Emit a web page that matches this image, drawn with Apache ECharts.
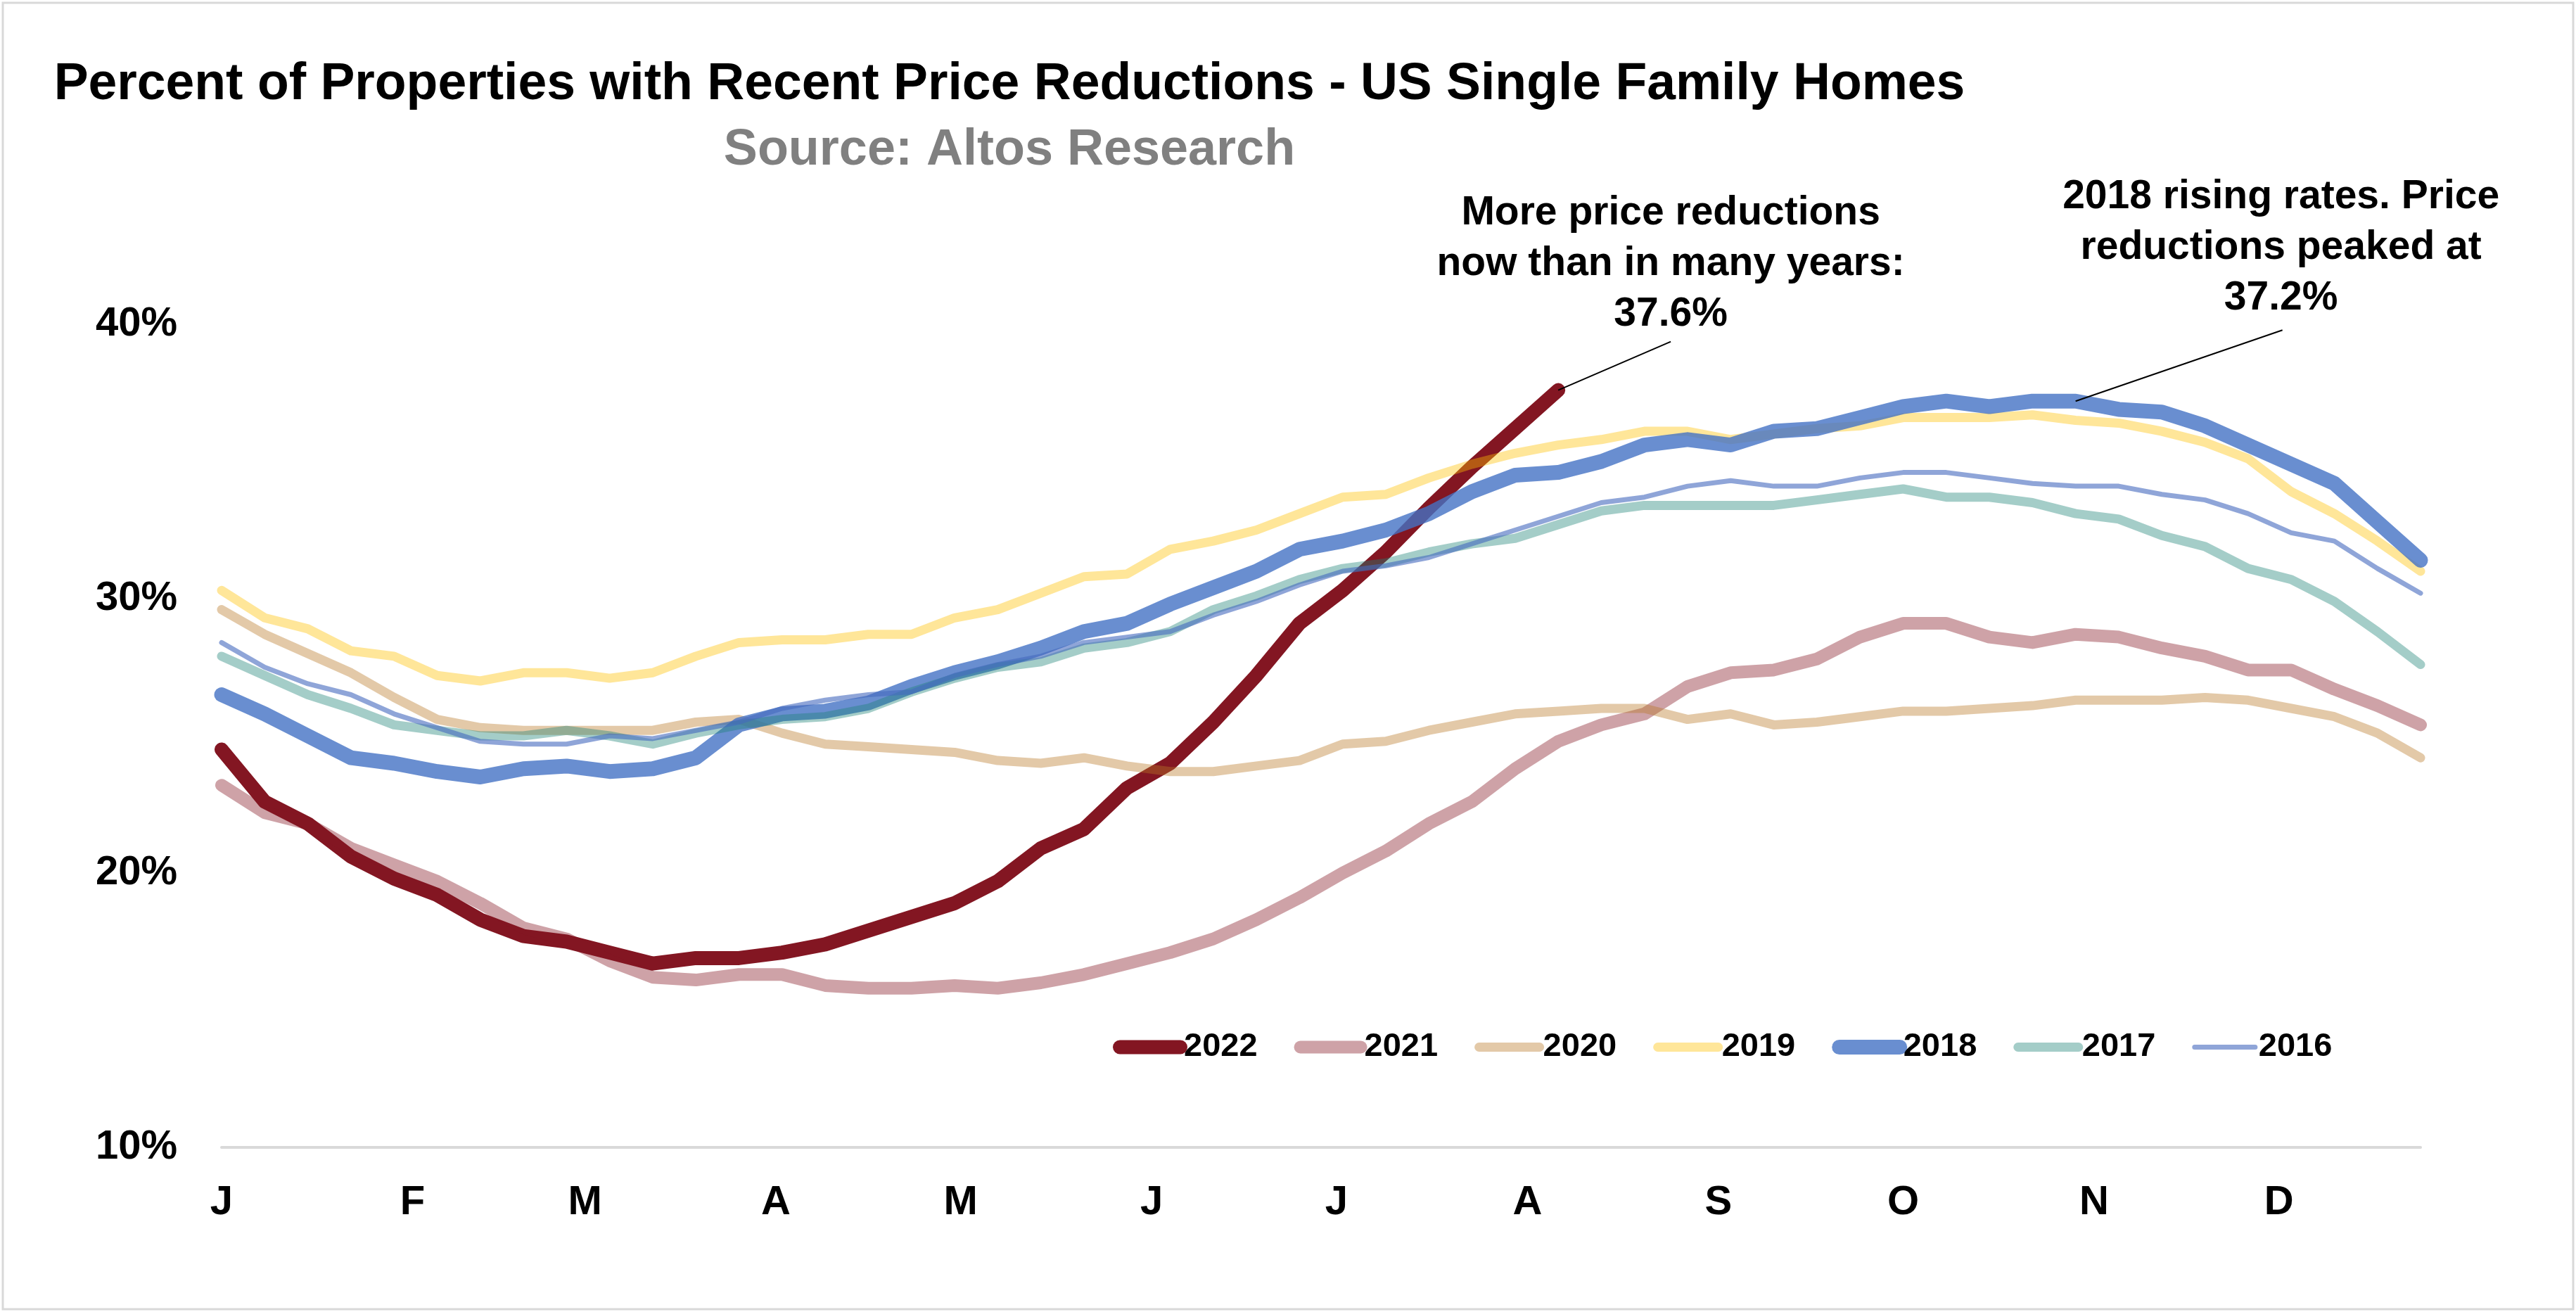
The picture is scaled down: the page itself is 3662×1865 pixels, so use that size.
<!DOCTYPE html>
<html>
<head>
<meta charset="utf-8">
<script src="https://cdn.jsdelivr.net/npm/echarts@6/dist/echarts.min.js"></script>
<style>
html,body{margin:0;padding:0;background:#fff;}
#chart{width:3662px;height:1865px;}
</style>
</head>
<body>
<div id="chart"></div>
<script>
// ---- data ----
var weekDay = [0,7,14,21,28,35,42,49,56,63,70,77,84,91,98,105,112,119,126,133,140,147,154,161,168,175,182,189,196,203,210,217,224,231,238,245,252,259,266,273,280,287,294,301,308,315,322,329,336,343,350,357];
var monthStartDay = [0,31,59,90,120,151,181,212,243,273,304,334];
var monthLabels = ['J','F','M','A','M','J','J','A','S','O','N','D'];
var yTicks = [10,20,30,40];
var seriesNames = ['2022','2021','2020','2019','2018','2017','2016'];

var s2022 = [24.5,22.6,21.8,20.6,19.8,19.2,18.3,17.7,17.5,17.1,16.7,16.9,16.9,17.1,17.4,17.9,18.4,18.9,19.7,20.9,21.6,23.1,24.0,25.5,27.2,29.1,30.3,31.7,33.3,34.8,36.2,37.6];
var s2021 = [23.2,22.2,21.8,20.9,20.3,19.7,18.9,18.0,17.6,16.8,16.2,16.1,16.3,16.3,15.9,15.8,15.8,15.9,15.8,16.0,16.3,16.7,17.1,17.6,18.3,19.1,20.0,20.8,21.8,22.6,23.8,24.8,25.4,25.8,26.8,27.3,27.4,27.8,28.6,29.1,29.1,28.6,28.4,28.7,28.6,28.2,27.9,27.4,27.4,26.7,26.1,25.4];
var s2020 = [29.6,28.7,28.0,27.3,26.4,25.6,25.3,25.2,25.2,25.2,25.2,25.5,25.6,25.1,24.7,24.6,24.5,24.4,24.1,24.0,24.2,23.9,23.7,23.7,23.9,24.1,24.7,24.8,25.2,25.5,25.8,25.9,26.0,26.0,25.6,25.8,25.4,25.5,25.7,25.9,25.9,26.0,26.1,26.3,26.3,26.3,26.4,26.3,26.0,25.7,25.1,24.2];
var s2019 = [30.3,29.3,28.9,28.1,27.9,27.2,27.0,27.3,27.3,27.1,27.3,27.9,28.4,28.5,28.5,28.7,28.7,29.3,29.6,30.2,30.8,30.9,31.8,32.1,32.5,33.1,33.7,33.8,34.4,34.9,35.3,35.6,35.8,36.1,36.1,35.8,36.0,36.2,36.3,36.6,36.6,36.6,36.7,36.5,36.4,36.1,35.7,35.1,33.9,33.1,32.1,31.0];
var s2018 = [26.5,25.8,25.0,24.2,24.0,23.7,23.5,23.8,23.9,23.7,23.8,24.2,25.4,25.8,25.9,26.2,26.8,27.3,27.7,28.2,28.8,29.1,29.8,30.4,31.0,31.8,32.1,32.5,33.1,33.9,34.5,34.6,35.0,35.6,35.8,35.6,36.1,36.2,36.6,37.0,37.2,37.0,37.2,37.2,36.9,36.8,36.3,35.6,34.9,34.2,32.8,31.4];
var s2017 = [27.9,27.2,26.5,26.0,25.4,25.2,25.0,25.0,25.2,25.0,24.7,25.1,25.4,25.6,25.7,26.0,26.6,27.1,27.5,27.7,28.2,28.4,28.8,29.6,30.1,30.7,31.1,31.3,31.7,32.0,32.2,32.7,33.2,33.4,33.4,33.4,33.4,33.6,33.8,34.0,33.7,33.7,33.5,33.1,32.9,32.3,31.9,31.1,30.7,29.9,28.8,27.6];
var s2016 = [28.4,27.5,26.9,26.5,25.8,25.3,24.8,24.7,24.7,25.0,24.9,25.2,25.5,26.0,26.3,26.5,26.6,27.2,27.6,27.9,28.4,28.6,28.8,29.4,29.9,30.5,31.0,31.2,31.5,32.0,32.5,33.0,33.5,33.7,34.1,34.3,34.1,34.1,34.4,34.6,34.6,34.4,34.2,34.1,34.1,33.8,33.6,33.1,32.4,32.1,31.1,30.2];

var titleText = 'Percent of Properties with Recent Price Reductions - US Single Family Homes';
var subtitleText = 'Source: Altos Research';
var note2022 = 'More price reductions\nnow than in many years:\n37.6%';
var note2018 = '2018 rising rates. Price\nreductions peaked at\n37.2%';

// ---- styles ----
var FONT = "'Liberation Sans', Arial, sans-serif";
var seriesValues = [s2022, s2021, s2020, s2019, s2018, s2017, s2016];
var seriesColor = ['#831622', '#841622', '#B97825', '#FFC000', '#4472C4', '#1B8275', '#4469BE'];
var seriesOpacity = [1, 0.4, 0.4, 0.4, 0.8, 0.4, 0.6];
var seriesWidth = [20, 18, 13, 13, 21, 13, 7];

function pairs(vals) {
  return vals.map(function (v, i) { return [weekDay[i], v]; });
}

var chart = echarts.init(document.getElementById('chart'));
var series = seriesNames.map(function (name, k) {
  return {
    name: name,
    type: 'line',
    data: pairs(seriesValues[k]),
    showSymbol: false,
    symbol: 'none',
    smooth: false,
    color: seriesColor[k],
    itemStyle: { color: seriesColor[k], opacity: 0 },
    lineStyle: {
      color: seriesColor[k],
      width: seriesWidth[k],
      opacity: seriesOpacity[k],
      cap: 'round',
      join: 'round'
    },
    emphasis: { disabled: true }
  };
});

chart.setOption({
  animation: false,
  backgroundColor: '#ffffff',
  title: [
    { text: titleText, left: 1435, top: 84, textAlign: 'center', padding: 0,
      textStyle: { fontFamily: FONT, fontSize: 73.3, fontWeight: 'bold', color: '#000000', lineHeight: 74 } },
    { text: subtitleText, left: 1435, top: 178, textAlign: 'center', padding: 0,
      textStyle: { fontFamily: FONT, fontSize: 72, fontWeight: 'bold', color: '#808080', lineHeight: 72 } }
  ],
  legend: {
    data: seriesNames,
    left: 1577,
    top: 1460,
    itemWidth: 86,
    itemHeight: 20,
    itemGap: 52,
    itemStyle: { opacity: 0 },
    lineStyle: { width: 'inherit', cap: 'round', opacity: 'inherit' },
    textStyle: { fontFamily: FONT, fontSize: 47, fontWeight: 'bold', color: '#000000', padding: [0,0,0,0] }
  },
  grid: { left: 315, right: 221, top: 461, bottom: 234, containLabel: false },
  xAxis: {
    type: 'value',
    min: 0,
    max: 357,
    axisLine: { show: true, lineStyle: { color: '#D9D9D9', width: 4 } },
    axisTick: { show: false },
    splitLine: { show: false },
    axisLabel: {
      customValues: monthStartDay,
      formatter: function (v) { var i = monthStartDay.indexOf(v); return i >= 0 ? monthLabels[i] : ''; },
      fontFamily: FONT, fontSize: 58, fontWeight: 'bold', color: '#000000', margin: 50
    }
  },
  yAxis: {
    type: 'value',
    min: 10,
    max: 40,
    interval: 10,
    axisLine: { show: false },
    axisTick: { show: false },
    splitLine: { show: false },
    axisLabel: {
      formatter: function (v) { return yTicks.indexOf(v) >= 0 ? v + '%' : ''; },
      fontFamily: FONT, fontSize: 58, fontWeight: 'bold', color: '#000000', margin: 63,
      padding: [14, 0, 0, 0]
    }
  },
  series: series
});

// ---- annotations anchored to data points ----
var p22 = chart.convertToPixel({ gridIndex: 0 }, [weekDay[31], s2022[31]]);
var p18 = chart.convertToPixel({ gridIndex: 0 }, [weekDay[43], s2018[43]]);
var noteStyle = { fontFamily: FONT, fontSize: 57, fontWeight: 'bold', fill: '#000000', lineHeight: 72, align: 'center', verticalAlign: 'top' };

chart.setOption({
  graphic: [
    { type: 'rect', silent: true, shape: { x: 4, y: 4, width: 3654, height: 1857 },
      style: { fill: 'none', stroke: '#D9D9D9', lineWidth: 3 } },
    { type: 'line', silent: true, z: 100,
      shape: { x1: p22[0] + 160, y1: p22[1] - 69, x2: p22[0], y2: p22[1] },
      style: { stroke: '#000000', lineWidth: 2 } },
    { type: 'text', silent: true, z: 100, x: p22[0] + 160, y: p22[1] - 287,
      style: Object.assign({ text: note2022 }, noteStyle) },
    { type: 'line', silent: true, z: 100,
      shape: { x1: p18[0] + 294, y1: p18[1] - 101, x2: p18[0], y2: p18[1] },
      style: { stroke: '#000000', lineWidth: 2 } },
    { type: 'text', silent: true, z: 100, x: p18[0] + 292, y: p18[1] - 326,
      style: Object.assign({ text: note2018 }, noteStyle) }
  ]
});
</script>
</body>
</html>
